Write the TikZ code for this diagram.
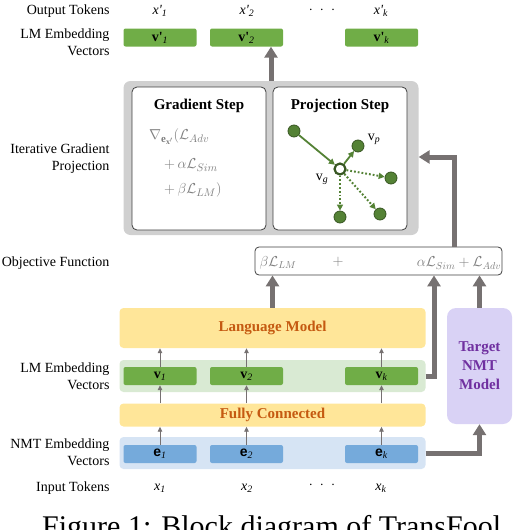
\documentclass[tikz,border=0pt]{standalone}
\usepackage{fontspec}
\setmainfont{Liberation Serif}
\newfontfamily\sansfam{Liberation Sans}
\usetikzlibrary{arrows.meta,positioning}

\definecolor{arrowgray}{HTML}{767171}
\definecolor{boxgray}{HTML}{D0D0D0}
\definecolor{edgegray}{HTML}{404040}
\definecolor{mathgray}{HTML}{7F7F7F}
\definecolor{lmyellow}{HTML}{FFE699}
\definecolor{lmorange}{HTML}{C55A11}
\definecolor{bandgreen}{HTML}{D9EAD3}
\definecolor{vecgreen}{HTML}{70AD47}
\definecolor{bandblue}{HTML}{D6E4F4}
\definecolor{vecblue}{HTML}{75AADB}
\definecolor{nmtlilac}{HTML}{D9D2F5}
\definecolor{nmtpurple}{HTML}{7030A0}
\definecolor{projgreen}{HTML}{548235}
\definecolor{projdark}{HTML}{385723}

\tikzstyle{rowlabel}=[align=right,anchor=east,font=\fontsize{14}{17}\selectfont]
\tikzstyle{token}=[font=\fontsize{14}{17}\selectfont\itshape]
\tikzstyle{vec}=[rounded corners=2pt,minimum width=73pt,minimum height=18pt,inner sep=0pt,font=\fontsize{14}{17}\selectfont]
\tikzstyle{band}=[rounded corners=4pt,minimum width=306pt,inner sep=0pt]
\tikzstyle{layer}=[band,fill=lmyellow,text=lmorange,font=\fontsize{15}{18}\selectfont\bfseries]
\tikzstyle{panel}=[draw=edgegray,fill=white,line width=0.8pt,rounded corners=5pt,minimum width=134pt,minimum height=143pt,inner sep=0pt]
\tikzstyle{bigarrow}=[draw=arrowgray,line width=5pt,-{Triangle[width=13pt,length=11pt]}]
\tikzstyle{thinarrow}=[draw=arrowgray,line width=0.9pt,-{Triangle[width=4.5pt,length=5pt]}]
\tikzstyle{dot}=[circle,draw=projdark,fill=projgreen,line width=0.8pt,minimum size=12pt,inner sep=0pt]
\tikzstyle{proj}=[draw=projgreen,line width=1.8pt,-{Triangle[width=6pt,length=6pt]}]
\tikzstyle{maths}=[text=mathgray,font=\fontsize{14}{17}\selectfont,inner sep=0pt]

\begin{document}
\begin{tikzpicture}[x=1pt,y=-1pt]
\useasboundingbox (0,0) rectangle (514,530);

% row labels
\node[rowlabel] (outlab) at (113,11) {Output Tokens};
\node[rowlabel] (toplab) at (113,42) {LM Embedding\\Vectors};
\node[rowlabel] (igplab) at (113,159) {Iterative Gradient\\Projection};
\node[rowlabel] (objlab) at (113,263) {Objective Function};
\node[rowlabel] (lmlab) at (113,376) {LM Embedding\\Vectors};
\node[rowlabel] (nmtlab) at (113,452) {NMT Embedding\\Vectors};
\node[rowlabel] (inlab) at (113,488) {Input Tokens};

% output side
\path node[token] (o1) at (160,11) {x\textquotesingle\textsubscript{1}}
      node[token] (o2) at (247,11) {x\textquotesingle\textsubscript{2}}
      node[token,inner sep=0pt] (odots) at (322,10) {$\cdot\;\cdot\;\cdot$}
      node[token] (ok) at (381,11) {x\textquotesingle\textsubscript{k}};
\path node[vec,fill=vecgreen] (vp1) at (160,37.5) {\textbf{v\textquotesingle}\textsubscript{\textit{1}}}
      node[vec,fill=vecgreen] (vp2) at (246.5,37.5) {\textbf{v\textquotesingle}\textsubscript{\textit{2}}}
      node[vec,fill=vecgreen] (vpk) at (381.5,37.5) {\textbf{v\textquotesingle}\textsubscript{\textit{k}}};

% iterative gradient projection
\node[fill=boxgray,rounded corners=7pt,minimum width=295pt,minimum height=154pt] (igp) at (271,158) {};
\node[panel] (grad) at (199,158.5) {};
\node[panel] (projp) at (340,158.5) {};
\node[font=\fontsize{15}{18}\selectfont\bfseries] (gradtitle) at (199,106) {Gradient Step};
\node[font=\fontsize{15}{18}\selectfont\bfseries] (projtitle) at (340,106) {Projection Step};
\node[maths,anchor=west,font=\fontsize{15.5}{18}\selectfont] (f1) at (149,137) {$\nabla_{\mathbf{e}_{\mathbf{x}'}}(\mathcal{L}_{Adv}$};
\node[maths,anchor=west,font=\fontsize{15.5}{18}\selectfont] (f2) at (164,165) {$+\,\alpha\mathcal{L}_{Sim}$};
\node[maths,anchor=west,font=\fontsize{15.5}{18}\selectfont] (f3) at (164,190) {$+\,\beta\mathcal{L}_{LM})$};

\node[dot] (start) at (294,131) {};
\node[circle,draw=projdark,fill=white,line width=2.2pt,minimum size=11pt,inner sep=0pt] (vg) at (340,169) {};
\node[dot] (vp) at (358,146) {};
\node[dot] (c1) at (391,178) {};
\node[dot] (c2) at (380,214) {};
\node[dot] (c3) at (340,217) {};
\node[font=\fontsize{14}{17}\selectfont] (vplab) at (374,139) {v\textsubscript{\textit{p}}};
\node[font=\fontsize{14}{17}\selectfont] (vglab) at (322,179) {v\textsubscript{\textit{g}}};
\draw[proj] (start) -- (vg);
\draw[proj] (vg) -- (vp);
\foreach \c in {c1,c2,c3}
  \draw[proj,dotted,line width=2pt] (vg) -- (\c);

% objective
\node[draw=edgegray,fill=white,line width=0.8pt,rounded corners=4pt,minimum width=247pt,minimum height=28pt] (obj) at (378.5,261) {};
\node[maths] (lmterm) at (278,263) {$\beta\mathcal{L}_{LM}$};
\node[maths] (plus) at (338,262) {$+$};
\node[maths] (advterm) at (459,263) {$\alpha\mathcal{L}_{Sim}+\mathcal{L}_{Adv}$};

% encoder side
\node[layer,minimum height=40pt] (lm) at (272.5,328) {Language Model};
\node[band,fill=bandgreen,minimum height=32pt] (lmband) at (272.5,376) {};
\node[layer,minimum height=23pt] (fc) at (272.5,415) {Fully Connected};
\node[band,fill=bandblue,minimum height=32pt] (nmtband) at (272.5,453) {};
\node[rounded corners=9pt,fill=nmtlilac,text=nmtpurple,minimum width=65pt,minimum height=116pt,align=center,font=\fontsize{15}{19}\selectfont\bfseries] (tgt) at (479.5,366) {Target\\NMT\\Model};

\path node[vec,fill=vecgreen] (v1) at (160,376) {\textbf{v}\textsubscript{\textit{1}}}
      node[vec,fill=vecgreen] (v2) at (246.5,376) {\textbf{v}\textsubscript{\textit{2}}}
      node[vec,fill=vecgreen] (vk) at (381.5,376) {\textbf{v}\textsubscript{\textit{k}}};
\path node[vec,fill=vecblue] (e1) at (160,454) {{\sansfam\bfseries e}\textsubscript{\textit{1}}}
      node[vec,fill=vecblue] (e2) at (246.5,454) {{\sansfam\bfseries e}\textsubscript{\textit{2}}}
      node[vec,fill=vecblue] (ek) at (381.5,454) {{\sansfam\bfseries e}\textsubscript{\textit{k}}};

\path node[token] (x1) at (160,488) {x\textsubscript{1}}
      node[token] (x2) at (247,488) {x\textsubscript{2}}
      node[token,inner sep=0pt] (xdots) at (322,485) {$\cdot\;\cdot\;\cdot$}
      node[token] (xk) at (381,488) {x\textsubscript{k}};

% thin arrows between layers
\foreach \i in {1,2,k} {
  \draw[thinarrow] (e\i.north) -- (e\i.north |- fc.south);
  \draw[thinarrow] (fc.north -| v\i.south) -- (v\i.south);
  \draw[thinarrow] (v\i.north) -- (v\i.north |- lm.south);
}

% thick arrows
\coordinate (back) at (454,157);
\coordinate (lmturn) at (434,376);
\draw[bigarrow] (igp.north) -- (igp.north |- vp2.south);
\draw[bigarrow] (lm.north) -- (lm.north |- obj.south);
\draw[bigarrow] (obj.north -| back) -- (back) -- (igp.east |- back);
\draw[bigarrow] (lmband.east) -- (lmturn) -- (lmturn |- obj.south);
\draw[bigarrow] (tgt.north) -- (tgt.north |- obj.south);
\draw[bigarrow] (nmtband.east) -- (nmtband.east -| tgt.south) -- (tgt.south);

% caption, cut by the page edge
\node[anchor=base west,inner sep=0pt,font=\fontsize{30}{34}\selectfont] (caption) at (42,536) {Figure 1: Block diagram of TransFool.};
\end{tikzpicture}
\end{document}
